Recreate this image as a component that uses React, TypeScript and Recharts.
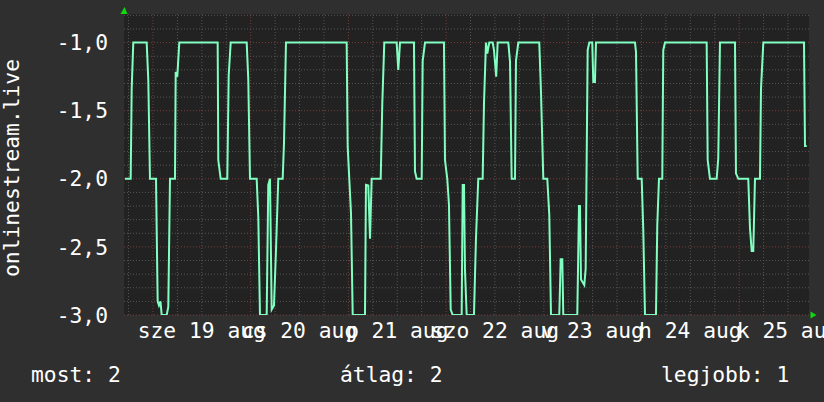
import React from 'react';
import { LineChart, Line, XAxis, YAxis, ReferenceLine, ReferenceDot, CartesianGrid } from 'recharts';

// hours since 19 aug 00:00
const hours = [
  -6.88, -5.48, -5.23, -4.84, -1.55, -1.15, -0.74, 0.74, 1.15, 1.47, 1.84, 2.14, 3.37, 3.76, 4.18, 5.4,
  5.58, 5.97, 6.46, 15.89, 16.04, 16.63, 18.25, 18.6, 19.09, 23.02, 23.41, 23.83, 25.47, 25.87, 26.28,
  27.93, 28.32, 28.74, 29.16, 29.72, 30.21, 30.78, 31.86, 32.18, 32.67, 47.58, 47.83, 48.22, 48.64,
  49.06, 52.08, 52.32, 52.89, 53.31, 53.72, 55.94, 56.33, 56.82, 59.86, 60.26, 60.68, 64.11, 64.36,
  64.78, 66.01, 66.25, 66.82, 71.48, 71.73, 72.29, 72.71, 73.13, 73.62, 75.83, 76.08, 76.4, 76.64,
  77.06, 78.85, 79.34, 79.91, 80.99, 81.31, 81.8, 82.12, 82.61, 83.45, 83.77, 84.31, 84.67, 87.28,
  87.7, 88.11, 88.93, 89.17, 89.74, 94.89, 95.31, 95.88, 96.86, 97.35, 97.77, 99.81, 100.15, 100.55,
  100.79, 104.23, 104.65, 104.89, 105.14, 105.95, 106.29, 106.78, 107.18, 107.91, 108.16, 108.57,
  108.82, 118.4, 118.65, 119.07, 120.05, 120.44, 120.86, 123.56, 123.88, 124.3, 125.11, 125.35,
  125.77, 136.01, 136.26, 136.82, 138.47, 138.86, 139.28, 142.97, 143.21, 143.78, 146.23, 146.65,
  147.07, 147.46, 147.88, 149.11, 149.36, 149.93, 159.92, 160.17, 160.59,
];

const rank = [
  -2.0, -2.0, -1.337, -1.0, -1.0, -1.276, -2.0, -2.0, -2.9, -2.93, -2.9, -3.0, -3.0, -2.94, -2.0, -2.0,
  -1.215, -1.25, -1.0, -1.0, -1.862, -2.0, -2.0, -1.24, -1.0, -1.0, -1.27, -2.0, -2.0, -2.28, -3.0,
  -3.0, -2.045, -2.0, -2.96, -2.93, -2.53, -2.0, -2.0, -1.74, -1.0, -1.0, -1.764, -2.0, -2.25,
  -3.0, -3.0, -2.045, -2.05, -2.44, -2.0, -2.0, -1.447, -1.0, -1.0, -1.2, -1.0, -1.0, -1.947,
  -2.0, -2.0, -1.134, -1.0, -1.0, -1.862, -2.0, -2.19, -2.96, -3.0, -3.0, -2.045, -2.045, -2.67,
  -3.0, -3.0, -2.44, -2.0, -2.0, -1.447, -1.0, -1.08, -1.0, -1.0, -1.056, -1.25, -1.0, -1.0,
  -1.14, -2.0, -2.0, -1.134, -1.0, -1.0, -1.36, -2.0, -2.0, -2.265, -3.0, -3.0, -2.59, -2.59,
  -3.0, -3.0, -2.2, -2.2, -2.74, -2.78, -2.66, -1.056, -1.0, -1.0, -1.29, -1.29,
  -1.0, -1.0, -1.068, -2.0, -2.0, -2.375, -3.0, -3.0, -2.34, -2.0, -2.0, -1.056,
  -1.0, -1.0, -1.862, -2.0, -2.0, -1.85, -1.0, -1.0, -1.96, -2.0, -2.0, -2.36,
  -2.53, -2.53, -2.0, -2.0, -1.337, -1.0, -1.0, -1.76, -1.76,
];

const xDomain: [number, number] = [-7.12, 161.15];
const yDomain: [number, number] = [-3, -0.79];

const yTicks = [-3, -2.5, -2, -1.5, -1];
const yMinor = [-2.9, -2.8, -2.7, -2.6, -2.4, -2.3, -2.2, -2.1, -1.9, -1.8, -1.7, -1.6, -1.4, -1.3, -1.2, -1.1, -0.9, -0.8];
const xMajor = [0, 24, 48, 72, 96, 120, 144];
const xMinor = [-6, 6, 12, 18, 30, 36, 42, 54, 60, 66, 78, 84, 90, 102, 108, 114, 126, 132, 138, 150, 156];
const xLabelPos = [12, 36, 60, 84, 108, 132, 156];
const xLabelText = ['sze 19 aug', 'cs 20 aug', 'p 21 aug', 'szo 22 aug', 'v 23 aug', 'h 24 aug', 'k 25 aug'];

const legendItems = ['most: 2', 'átlag: 2', 'legjobb: 1'];
const axisTitle = 'onlinestream.live';

const data = hours.map((h, i) => ({ h, v: rank[i] }));

const FONT = '"DejaVu Sans Mono", monospace';
const FS = 21.3;
const BG = '#2f2f2f';
const PLOT_BG = '#222222';
const MINOR = '#565656';
const MAJOR = '#7a3b3b';
const LINE = '#80ffc0';
const ARROW = '#10d810';

const XTick = (p: any) => {
  const idx = xLabelPos.indexOf(p.payload.value);
  return (
    <text x={p.x} y={p.y} dy={15} textAnchor="middle" fill="#ffffff" fontFamily={FONT} fontSize={FS}>
      {xLabelText[idx]}
    </text>
  );
};

const YTick = (p: any) => (
  <text x={p.x} y={p.y} dy="0.36em" textAnchor="end" fill="#ffffff" fontFamily={FONT} fontSize={FS}>
    {Number(p.payload.value).toFixed(1).replace('.', ',')}
  </text>
);

const UpArrow = (p: any) => (
  <polygon points={`${p.cx - 3.5},${p.cy} ${p.cx + 3.5},${p.cy} ${p.cx + 0.5},${p.cy - 7}`} fill={ARROW} />
);
const RightArrow = (p: any) => (
  <polygon points={`${p.cx + 1.5},${p.cy - 3.5} ${p.cx + 1.5},${p.cy + 3.5} ${p.cx + 7.5},${p.cy}`} fill={ARROW} />
);

export default function App() {
  return (
    <div style={{ position: 'absolute', left: 0, top: 0, width: 824, height: 402, overflow: 'hidden', background: BG }}>
      <LineChart width={824} height={402} data={data} margin={{ top: 14, right: 15, left: 0, bottom: 0 }}>
        <CartesianGrid fill={PLOT_BG} stroke="none" horizontal={false} vertical={false} />
        <XAxis
          type="number"
          dataKey="h"
          domain={xDomain}
          ticks={xLabelPos}
          interval={0}
          allowDataOverflow
          axisLine={false}
          tickLine={false}
          tickSize={6}
          tickMargin={2}
          height={87}
          tick={<XTick />}
        />
        <YAxis
          type="number"
          domain={yDomain}
          ticks={yTicks}
          interval={0}
          allowDataOverflow
          axisLine={false}
          tickLine={false}
          tickSize={6}
          tickMargin={10}
          width={124}
          tick={<YTick />}
        />
        {yMinor.map((v) => (
          <ReferenceLine key={'ym' + v} y={v} stroke={MINOR} strokeDasharray="1 2" strokeWidth={1} />
        ))}
        {xMinor.map((v) => (
          <ReferenceLine key={'xm' + v} x={v} stroke={MINOR} strokeDasharray="1 2" strokeWidth={1} />
        ))}
        {yTicks.map((v) => (
          <ReferenceLine key={'yM' + v} y={v} stroke={MAJOR} strokeDasharray="1 2" strokeWidth={1} />
        ))}
        {xMajor.map((v) => (
          <ReferenceLine key={'xM' + v} x={v} stroke={MAJOR} strokeDasharray="1 2" strokeWidth={1} />
        ))}
        <Line type="linear" dataKey="v" stroke={LINE} strokeWidth={2} dot={false} isAnimationActive={false} />
        <ReferenceDot x={xDomain[0]} y={yDomain[1]} r={4} shape={UpArrow} ifOverflow="visible" />
        <ReferenceDot x={xDomain[1]} y={yDomain[0]} r={4} shape={RightArrow} ifOverflow="visible" />
      </LineChart>
      <svg width={824} height={402} style={{ position: 'absolute', left: 0, top: 0, pointerEvents: 'none' }}>
        <text
          x={18.5}
          y={168}
          transform="rotate(-90 18.5 168)"
          textAnchor="middle"
          fill="#ffffff"
          fontFamily={FONT}
          fontSize={FS}
        >
          {axisTitle}
        </text>
        <text x={31} y={382} fill="#ffffff" fontFamily={FONT} fontSize={FS}>{legendItems[0]}</text>
        <text x={340} y={382} fill="#ffffff" fontFamily={FONT} fontSize={FS}>{legendItems[1]}</text>
        <text x={661} y={382} fill="#ffffff" fontFamily={FONT} fontSize={FS}>{legendItems[2]}</text>
      </svg>
    </div>
  );
}
